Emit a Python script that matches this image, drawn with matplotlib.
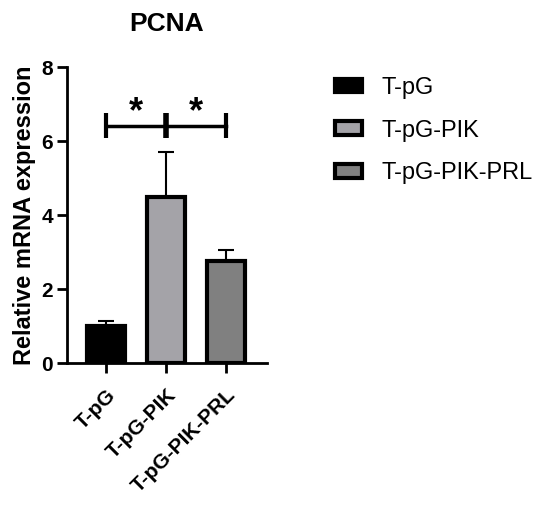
import matplotlib
matplotlib.use('Agg')
import matplotlib.pyplot as plt
from matplotlib.patches import Patch

plt.rcParams['font.family'] = ['Liberation Sans', 'DejaVu Sans']

groups = ['T-pG', 'T-pG-PIK', 'T-pG-PIK-PRL']
means = [1.0, 4.5, 2.75]
errs = [0.15, 1.22, 0.32]
colors = ['#000000', '#a4a3a8', '#808080']

sig_y = 6.4
sig_pairs = [(0, 1), (1, 2)]

fig = plt.figure(figsize=(5.5, 5.05), dpi=100)
ax = fig.add_axes([0.122, 0.281, 0.363, 0.586])

x = range(len(groups))
ax.bar(x, means, width=0.62, color=colors, edgecolor='black', linewidth=3, zorder=2)
ax.errorbar(x, means, yerr=[[0] * 3, errs], fmt='none', ecolor='black',
            elinewidth=1.5, capsize=5.5, capthick=1.5, zorder=1)

# significance brackets
for a, b in sig_pairs:
    ax.plot([a, b], [sig_y, sig_y], color='black', lw=2.5, zorder=3)
    ax.text((a + b) / 2, sig_y - 0.1, '*', ha='center', va='bottom',
            fontsize=26, fontweight='bold')
for p in [0, 1, 2]:
    ax.plot([p, p], [sig_y - 0.32, sig_y + 0.35], color='black',
            lw=4 if p == 1 else 3, zorder=3, solid_capstyle='butt')

ax.set_xlim(-0.65, 2.68)
ax.set_ylim(0, 8)
ax.set_yticks([0, 2, 4, 6, 8])
ax.set_xticks(list(x))
ax.set_xticklabels(groups, rotation=45, ha='right', rotation_mode='anchor',
                   fontsize=15, fontweight='bold')
for lbl in ax.get_yticklabels():
    lbl.set_fontsize(15)
    lbl.set_fontweight('bold')

ax.spines['top'].set_visible(False)
ax.spines['right'].set_visible(False)
ax.spines['left'].set_linewidth(2)
ax.spines['bottom'].set_linewidth(2)
ax.tick_params(width=2, length=7, pad=3)
ax.tick_params(axis='x', pad=9)
ax.set_ylabel('Relative mRNA expression', fontsize=17, fontweight='bold', labelpad=4)
ax.set_title('PCNA', fontsize=19, fontweight='bold', pad=26)

handles = [Patch(facecolor=c, edgecolor='black', linewidth=3) for c in colors]
fig.legend(handles, groups, loc='upper left', bbox_to_anchor=(0.57, 0.89),
           frameon=False, fontsize=17, handlelength=1.15, handleheight=0.5,
           labelspacing=0.88, handletextpad=0.85)

fig.savefig('out.png', dpi=100)
